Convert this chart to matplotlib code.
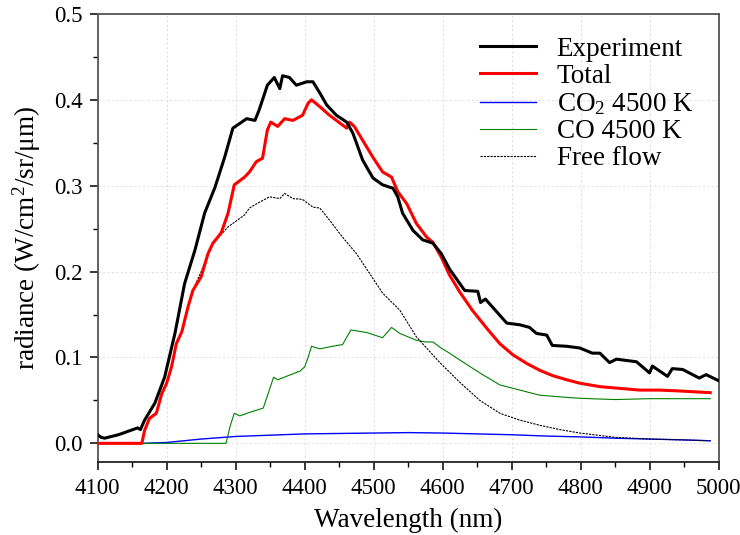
import matplotlib
matplotlib.use("Agg")
import matplotlib.pyplot as plt

plt.rcParams['font.family'] = ['Liberation Serif', 'DejaVu Serif']
plt.rcParams['mathtext.fontset'] = 'custom'
plt.rcParams['mathtext.rm'] = 'Liberation Serif'
plt.rcParams['mathtext.it'] = 'Liberation Serif:italic'

# Experiment
exp_wl = [4100, 4105, 4110, 4130, 4158, 4162, 4168, 4183, 4197, 4212, 4226, 4241, 4255, 4270,
          4284, 4296, 4316, 4328, 4334, 4346, 4356, 4364, 4368, 4378, 4388, 4403, 4412, 4422,
          4432, 4446, 4461, 4470, 4484, 4499, 4513, 4528, 4535, 4542, 4557, 4571, 4586, 4598,
          4610, 4632, 4651, 4655, 4662, 4672, 4693, 4712, 4726, 4736, 4751, 4759, 4780, 4799,
          4817, 4828, 4842, 4852, 4881, 4900, 4904, 4926, 4933, 4948, 4972, 4982, 5000]
exp_val = [0.010, 0.007, 0.006, 0.010, 0.018, 0.016, 0.027, 0.047, 0.077, 0.128, 0.186, 0.225,
           0.268, 0.298, 0.333, 0.367, 0.378, 0.376, 0.388, 0.417, 0.426, 0.413, 0.428, 0.426,
           0.417, 0.421, 0.421, 0.408, 0.394, 0.382, 0.374, 0.361, 0.330, 0.309, 0.301, 0.297,
           0.287, 0.268, 0.248, 0.237, 0.233, 0.221, 0.203, 0.178, 0.177, 0.164, 0.168, 0.159,
           0.140, 0.138, 0.135, 0.128, 0.126, 0.114, 0.113, 0.111, 0.105, 0.105, 0.094, 0.098,
           0.095, 0.082, 0.090, 0.078, 0.087, 0.086, 0.076, 0.080, 0.073]

# Total
tot_wl = [4100, 4164, 4168, 4175, 4185, 4193, 4200, 4207, 4214, 4222, 4231, 4238, 4250, 4260,
          4267, 4279, 4289, 4298, 4313, 4320, 4330, 4339, 4346, 4351, 4361, 4371, 4383, 4397,
          4405, 4410, 4422, 4436, 4451, 4461, 4465, 4472, 4484, 4499, 4513, 4526, 4535, 4548,
          4562, 4577, 4586, 4598, 4610, 4625, 4643, 4664, 4683, 4702, 4722, 4741, 4759, 4780,
          4799, 4828, 4857, 4886, 4914, 4943, 4988]
tot_val = [0.0, 0.0, 0.015, 0.029, 0.035, 0.058, 0.070, 0.089, 0.116, 0.130, 0.159, 0.178,
           0.194, 0.221, 0.233, 0.245, 0.268, 0.301, 0.310, 0.316, 0.328, 0.332, 0.365, 0.374,
           0.369, 0.378, 0.376, 0.382, 0.396, 0.400, 0.392, 0.382, 0.373, 0.367, 0.374, 0.369,
           0.353, 0.333, 0.316, 0.310, 0.293, 0.279, 0.256, 0.240, 0.234, 0.217, 0.196, 0.176,
           0.155, 0.134, 0.116, 0.103, 0.093, 0.085, 0.079, 0.074, 0.070, 0.066, 0.064, 0.062,
           0.062, 0.061, 0.059]

# CO2 4500 K
co2_wl = [4165, 4200, 4250, 4300, 4350, 4400, 4450, 4500, 4550, 4600, 4650, 4700, 4750, 4800,
          4850, 4900, 4950, 4988]
co2_val = [0.0, 0.001, 0.005, 0.008, 0.0095, 0.011, 0.0115, 0.012, 0.0125, 0.012, 0.011, 0.010,
           0.0085, 0.0075, 0.006, 0.005, 0.004, 0.003]

# CO 4500 K
co_wl = [4165, 4286, 4292, 4298, 4306, 4320, 4340, 4348, 4355, 4361, 4380, 4393, 4400, 4405,
         4410, 4422, 4440, 4455, 4462, 4467, 4490, 4513, 4526, 4538, 4562, 4575, 4586, 4596,
         4610, 4625, 4654, 4683, 4712, 4741, 4788, 4813, 4850, 4900, 4950, 4988]
co_val = [0.0, 0.0, 0.020, 0.035, 0.032, 0.036, 0.041, 0.060, 0.077, 0.074, 0.080, 0.084, 0.089,
          0.100, 0.113, 0.110, 0.113, 0.115, 0.125, 0.132, 0.129, 0.123, 0.135, 0.128, 0.120,
          0.118, 0.118, 0.112, 0.105, 0.097, 0.082, 0.068, 0.062, 0.056, 0.053, 0.052, 0.051,
          0.052, 0.052, 0.052]

# Free flow
ff_wl = [4100, 4164, 4168, 4175, 4185, 4193, 4200, 4207, 4214, 4222, 4231, 4238, 4250, 4265,
         4289, 4313, 4320, 4335, 4349, 4364, 4371, 4383, 4397, 4412, 4422, 4436, 4455, 4475,
         4494, 4513, 4538, 4562, 4596, 4625, 4654, 4683, 4712, 4741, 4770, 4799, 4850, 4900,
         4950, 4988]
ff_val = [0.0, 0.0, 0.015, 0.029, 0.035, 0.058, 0.070, 0.089, 0.116, 0.130, 0.159, 0.178, 0.200,
          0.231, 0.252, 0.266, 0.274, 0.281, 0.287, 0.285, 0.291, 0.285, 0.284, 0.275, 0.274,
          0.260, 0.240, 0.221, 0.198, 0.175, 0.155, 0.124, 0.094, 0.071, 0.050, 0.035, 0.027,
          0.021, 0.016, 0.012, 0.007, 0.005, 0.004, 0.003]

fig = plt.figure(figsize=(7.4, 5.35), dpi=100)
ax = fig.add_axes([0.132, 0.136, 0.839, 0.838])

ax.plot(exp_wl, exp_val, color='black', lw=2.2, label='Experiment', zorder=5)
ax.plot(tot_wl, tot_val, color='red', lw=2.2, label='Total', zorder=4)
ax.plot(co2_wl, co2_val, color='blue', lw=1.0, label='CO$_2$ 4500 K', zorder=3)
ax.plot(co_wl, co_val, color='green', lw=0.8, label='CO 4500 K', zorder=3)
ax.plot(ff_wl, ff_val, color='black', lw=0.8, linestyle=(0, (2, 1)), label='Free flow', zorder=3)

ax.set_xlim(4100, 5000)
ax.set_ylim(-0.022, 0.5)
ax.set_xticks(range(4100, 5001, 100))
ax.set_xticks(range(4150, 5000, 100), minor=True)
ax.set_yticks([0.0, 0.1, 0.2, 0.3, 0.4, 0.5])
ax.set_yticks([0.05, 0.15, 0.25, 0.35, 0.45], minor=True)
ax.set_yticklabels(['0.0', '0.1', '0.2', '0.3', '0.4', '0.5'])

ax.grid(True, which='major', color='#e2e2e2', linestyle=(0, (2, 2)), lw=0.8)
ax.tick_params(which='major', direction='out', length=6, width=1.1, labelsize=16.5, pad=5)
ax.tick_params(which='minor', direction='out', length=3.5, width=1.0)
for s in ax.spines.values():
    s.set_color('#555555')
    s.set_linewidth(1.3)
ax.spines['bottom'].set_color('#222222')

ax.set_xlabel('Wavelength (nm)', fontsize=19.5, labelpad=7)
ax.set_ylabel('radiance (W/cm$^2$/sr/\u03bcm)', fontsize=19.5, labelpad=8)

ax.legend(loc='upper left', bbox_to_anchor=(0.615, 0.949), frameon=False, fontsize=19.5,
          borderpad=0, borderaxespad=0, handlelength=2.1, handletextpad=0.75, labelspacing=0.08)

fig.savefig('out.png', dpi=100)
